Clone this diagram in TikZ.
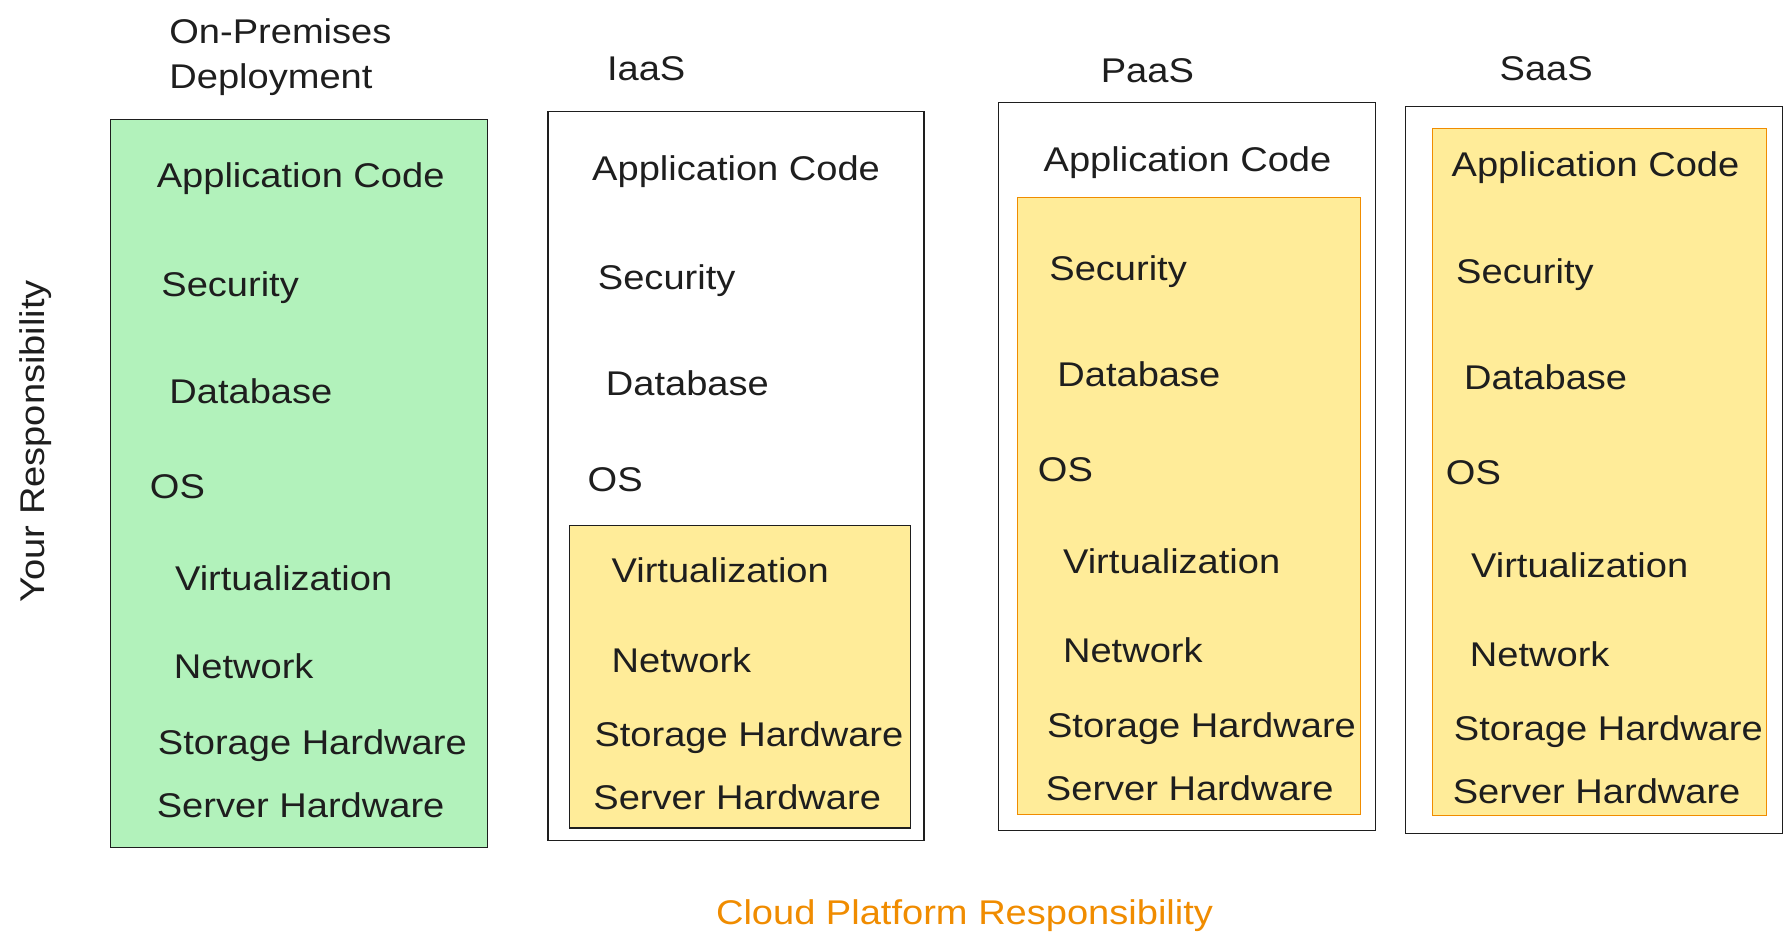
\documentclass[tikz,border=0pt]{standalone}
\usepackage{fontspec}
\setmainfont{Liberation Sans}[FakeStretch=1.11]
\definecolor{strokedark}{HTML}{1E1E1E}
\definecolor{greenfill}{HTML}{B2F2BB}
\definecolor{yellowfill}{HTML}{FFEC99}
\definecolor{orangeline}{HTML}{F08C00}
\tikzset{
  txt/.style={anchor=base west, inner sep=0pt, text=strokedark, font=\fontsize{30}{36}\selectfont},
  panel/.style={draw=strokedark, line width=1pt, anchor=north west, inner sep=0pt},
  greenpanel/.style={panel, fill=greenfill},
  yellowdark/.style={panel, fill=yellowfill},
  yelloworange/.style={draw=orangeline, line width=1pt, fill=yellowfill, anchor=north west, inner sep=0pt},
}
\begin{document}
\begin{tikzpicture}[x=1pt,y=-1pt]
\useasboundingbox[fill=white] (0,0) rectangle (1568,831);

% titles
\node[txt] (premA) at (148,38) {On-Premises};
\node[txt] (premB) at (148,77) {Deployment};
\node[txt] (iaasT) at (531,70) {IaaS};
\node[txt] (paasT) at (963,72) {PaaS};
\node[txt] (saasT) at (1312,70) {SaaS};

% panels
\node[greenpanel, minimum width=330pt, minimum height=637pt] (onprem) at (96,104) {};
\node[panel, fill=white, minimum width=329pt, minimum height=638pt] (iaas) at (479,97) {};
\node[yellowdark, minimum width=298pt, minimum height=265pt] (iaasY) at (498,459) {};
\node[panel, fill=white, minimum width=330pt, minimum height=637pt] (paas) at (873,89) {};
\node[yelloworange, minimum width=300pt, minimum height=540pt] (paasY) at (890,172) {};
\node[panel, fill=white, minimum width=330pt, minimum height=636pt] (saas) at (1229,93) {};
\node[yelloworange, minimum width=292pt, minimum height=601pt] (saasY) at (1253,112) {};

% On-premises
\node[txt] (p1) at (137,164) {Application Code};
\node[txt] (p2) at (141,259) {Security};
\node[txt] (p3) at (148,353) {Database};
\node[txt] (p4) at (131,436) {OS};
\node[txt] (p5) at (153,517) {Virtualization};
\node[txt] (p6) at (152,594) {Network};
\node[txt] (p7) at (138,660) {Storage Hardware};
\node[txt] (p8) at (137,715) {Server Hardware};

% IaaS
\node[txt] (i1) at (518,158) {Application Code};
\node[txt] (i2) at (523,253) {Security};
\node[txt] (i3) at (530,346) {Database};
\node[txt] (i4) at (514,430) {OS};
\node[txt] (i5) at (535,510) {Virtualization};
\node[txt] (i6) at (535,588) {Network};
\node[txt] (i7) at (520,653) {Storage Hardware};
\node[txt] (i8) at (519,708) {Server Hardware};

% PaaS
\node[txt] (a1) at (913,150) {Application Code};
\node[txt] (a2) at (918,245) {Security};
\node[txt] (a3) at (925,338) {Database};
\node[txt] (a4) at (908,421) {OS};
\node[txt] (a5) at (930,502) {Virtualization};
\node[txt] (a6) at (930,580) {Network};
\node[txt] (a7) at (916,645) {Storage Hardware};
\node[txt] (a8) at (915,700) {Server Hardware};

% SaaS
\node[txt] (s1) at (1270,154) {Application Code};
\node[txt] (s2) at (1274,248) {Security};
\node[txt] (s3) at (1281,341) {Database};
\node[txt] (s4) at (1265,424) {OS};
\node[txt] (s5) at (1287,505) {Virtualization};
\node[txt] (s6) at (1286,583) {Network};
\node[txt] (s7) at (1272,648) {Storage Hardware};
\node[txt] (s8) at (1271,703) {Server Hardware};

% axis labels
\node[inner sep=0pt, rotate=90, text=strokedark, font=\fontsize{30}{36}\selectfont] (yours) at (31,386) {Your Responsibility};
\node[inner sep=0pt, text=orangeline, font=\fontsize{30}{36}\selectfont] (cloud) at (844,801) {Cloud Platform Responsibility};
\end{tikzpicture}
\end{document}
